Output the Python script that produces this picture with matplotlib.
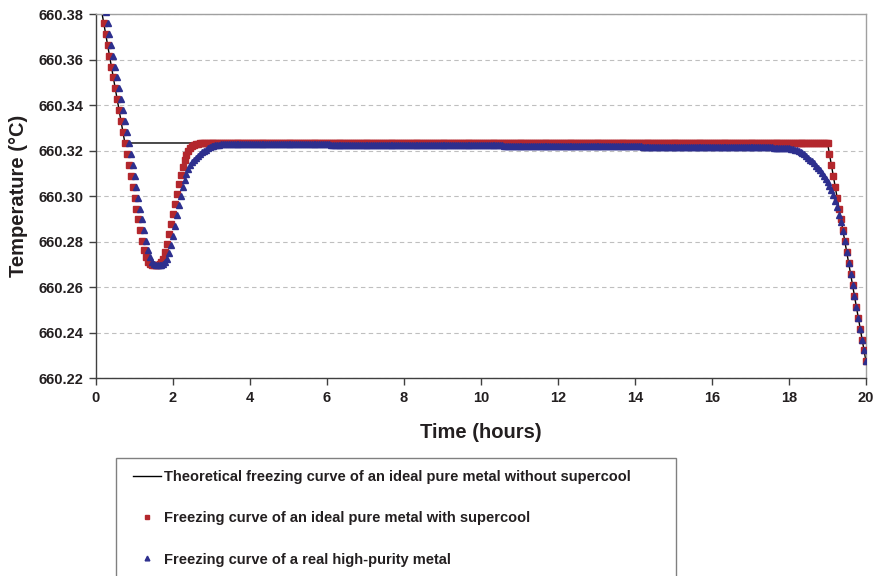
import numpy as np
import matplotlib
matplotlib.use('Agg')
import matplotlib.pyplot as plt
from matplotlib.lines import Line2D
from matplotlib.patches import Rectangle

plt.rcParams['font.family'] = ['Liberation Sans', 'DejaVu Sans']
plt.rcParams['font.weight'] = 'bold'

# marker series are logged every 3 minutes
hours = np.round(np.arange(0.2, 20.001, 0.05), 2)

# theoretical curve (no supercool)
ideal_hours = [0.0, 0.75, 19.0, 20.0]
ideal_temp = [660.3953, 660.3233, 660.3233, 660.2273]

# ideal pure metal with supercool
supercool_temp = (
    [660.3761, 660.3713, 660.3665, 660.3617, 660.3569, 660.3521,
     660.3473, 660.3425, 660.3377, 660.3329, 660.3281, 660.3233]
    + [660.3185, 660.3137, 660.3089, 660.3041, 660.2993, 660.2945, 660.2897, 660.2849, 660.2803, 660.2762,
       660.2730, 660.2710, 660.2701, 660.2697, 660.2696, 660.2696, 660.2697, 660.2700, 660.2708, 660.2725,
       660.2752, 660.2790, 660.2832, 660.2876, 660.2921, 660.2966, 660.3010, 660.3052, 660.3092, 660.3128,
       660.3158, 660.3182, 660.3199, 660.3211, 660.3219, 660.3224, 660.3228, 660.3230, 660.3232, 660.3233]
    + [660.3233] * 325
    + [660.3185, 660.3137, 660.3089, 660.3041, 660.2993, 660.2945, 660.2897, 660.2849, 660.2801, 660.2753,
       660.2705, 660.2657, 660.2609, 660.2561, 660.2513, 660.2465, 660.2417, 660.2369, 660.2321, 660.2273]
)

# real high-purity metal
real_temp = (
    [660.3857, 660.3809, 660.3761, 660.3713, 660.3665, 660.3617, 660.3569, 660.3521, 660.3473, 660.3425,
     660.3377, 660.3329, 660.3281, 660.3233, 660.3185, 660.3137, 660.3089, 660.3041, 660.2993, 660.2945,
     660.2897, 660.2849, 660.2803, 660.2762, 660.2730, 660.2710, 660.2701, 660.2697, 660.2696, 660.2696,
     660.2697, 660.2700, 660.2708, 660.2725, 660.2750, 660.2785, 660.2826, 660.2870, 660.2915, 660.2960,
     660.3002, 660.3040, 660.3072, 660.3098, 660.3120, 660.3136, 660.3148, 660.3159, 660.3168, 660.3177,
     660.3185, 660.3192, 660.3198, 660.3204, 660.3209, 660.3214, 660.3218, 660.3221, 660.3223, 660.3225,
     660.3226, 660.3227, 660.3228, 660.3228]
    + [660.3229] * 18 + [660.3228] * 18 + [660.3227] * 18 + [660.3226] * 18 + [660.3225] * 18
    + [660.3224] * 18 + [660.3223] * 18 + [660.3222] * 18 + [660.3221] * 18 + [660.3220] * 18
    + [660.3219] * 18 + [660.3218] * 18 + [660.3217] * 18 + [660.3216] * 18 + [660.3215] * 18
    + [660.3214] * 13
    + [660.3214, 660.3213, 660.3213, 660.3212, 660.3212, 660.3211, 660.3211, 660.3210, 660.3210, 660.3209,
       660.3208, 660.3206, 660.3204, 660.3201, 660.3198, 660.3194, 660.3189, 660.3183, 660.3176, 660.3168,
       660.3160, 660.3152, 660.3143, 660.3134, 660.3124, 660.3113, 660.3101, 660.3089, 660.3076, 660.3062,
       660.3046, 660.3028, 660.3006, 660.2980, 660.2950, 660.2918, 660.2884, 660.2845, 660.2801, 660.2753,
       660.2705, 660.2657, 660.2609, 660.2561, 660.2513, 660.2465, 660.2417, 660.2369, 660.2321, 660.2273]
)

labels = ['Theoretical freezing curve of an ideal pure metal without supercool',
          'Freezing curve of an ideal pure metal with supercool',
          'Freezing curve of a real high-purity metal']

red = '#B3272D'
blue = '#2D2F8E'
txt = '#231F20'

W, H = 882, 576
fig = plt.figure(figsize=(W / 100, H / 100), dpi=100)
ax = fig.add_axes([96 / W, 1 - 378 / H, 770 / W, 364 / H])

ax.plot(ideal_hours, ideal_temp, color='black', lw=1.0, zorder=2)
ax.plot(hours, supercool_temp, ls='none', marker='s', ms=3.8, color=red, mec=red, zorder=3)
ax.plot(hours, real_temp, ls='none', marker='^', ms=4.3, color=blue, mec=blue, zorder=4)

ax.set_xlim(0, 20)
ax.set_ylim(660.22, 660.38)
ax.set_xticks(np.arange(0, 21, 2))
ax.set_yticks(np.arange(660.22, 660.381, 0.02))
ax.yaxis.set_major_formatter(matplotlib.ticker.FormatStrFormatter('%.2f'))
ax.grid(axis='y', color='#BFBFBF', ls=(0, (4, 3)), lw=0.8)
ax.set_axisbelow(True)

for s in ['left', 'bottom']:
    ax.spines[s].set_color('#404040')
    ax.spines[s].set_linewidth(1.0)
for s in ['top', 'right']:
    ax.spines[s].set_color('#A0A0A0')
    ax.spines[s].set_linewidth(1.0)

ax.tick_params(direction='out', length=5, width=1, color='#404040',
               labelsize=10.5, labelcolor=txt, pad=4)
for lab in ax.get_xticklabels() + ax.get_yticklabels():
    lab.set_fontweight('bold')

ax.set_xlabel('Time (hours)', fontsize=14.5, fontweight='bold', color=txt)
ax.set_ylabel('Temperature (°C)', fontsize=14.5, fontweight='bold', color=txt)
ax.xaxis.set_label_coords(0.5, -0.125)
ax.yaxis.set_label_coords(-0.088, 0.5)

# legend box below the chart
fig.patches.append(Rectangle((116 / W, -0.01), 560 / W, 118 / H + 0.01,
                             transform=fig.transFigure, fill=False,
                             edgecolor='#808080', lw=1.0))
handles = [Line2D([], [], color='black', lw=1.0),
           Line2D([], [], ls='none', marker='s', ms=3.2, color=red),
           Line2D([], [], ls='none', marker='^', ms=3.4, color=blue)]
fig.legend(handles, labels, loc='upper left', bbox_to_anchor=(133 / W, 1 - 470 / H),
           frameon=False, handlelength=1.9, handletextpad=0.25,
           labelspacing=1.87, borderpad=0, borderaxespad=0, labelcolor=txt,
           prop={'weight': 'bold', 'size': 10.5})

fig.savefig('out.png', dpi=100)
